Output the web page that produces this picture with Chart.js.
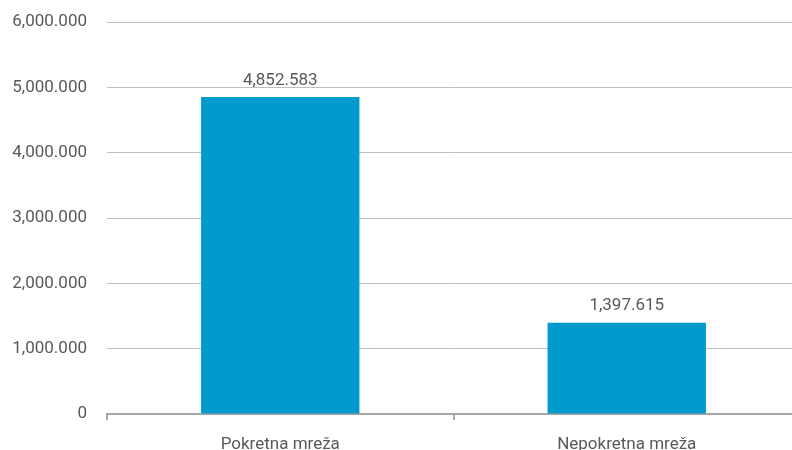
<!DOCTYPE html>
<html>
<head>
<meta charset="utf-8">
<script src="https://cdn.jsdelivr.net/npm/chart.js@4.4.1/dist/chart.umd.min.js"></script>
<style>
  html, body { margin: 0; padding: 0; overflow: hidden; background: #fff; }
  #wrap { width: 800px; height: 450px; }
</style>
</head>
<body>
<div id="wrap"><canvas id="networkChart"></canvas></div>
<script>
const categories = ["Pokretna mreža", "Nepokretna mreža"];
const values = [4852.583, 1397.615];
const yTicks = [0, 1000, 2000, 3000, 4000, 5000, 6000];

const textColor = "#595959";
const fontFamily = "Roboto, 'Open Sans', sans-serif";

function formatValue(value) {
  if (value === 0) return "0";
  return value.toLocaleString("en-US", { minimumFractionDigits: 3, maximumFractionDigits: 3 });
}

const valueLabels = {
  id: "valueLabels",
  afterDatasetsDraw(chart) {
    const ctx = chart.ctx;
    const meta = chart.getDatasetMeta(0);
    ctx.save();
    ctx.fillStyle = textColor;
    ctx.font = `17px ${fontFamily}`;
    ctx.textAlign = "center";
    ctx.textBaseline = "bottom";
    meta.data.forEach((bar, i) => {
      ctx.fillText(formatValue(values[i]), bar.x, bar.y - 8);
    });
    ctx.restore();
  }
};

new Chart(document.getElementById("networkChart"), {
  type: "bar",
  data: {
    labels: categories,
    datasets: [
      {
        data: values,
        backgroundColor: "#009ACD",
        categoryPercentage: 0.457,
        barPercentage: 1
      }
    ]
  },
  options: {
    responsive: true,
    maintainAspectRatio: false,
    animation: false,
    layout: { padding: { top: 22, left: 0, right: 0, bottom: 0 } },
    plugins: { legend: { display: false }, tooltip: { enabled: false } },
    scales: {
      x: {
        offset: true,
        grid: { offset: true, drawOnChartArea: false, drawTicks: true, tickLength: 6, color: "#a6a6a6", lineWidth: 2 },
        border: { color: "#a6a6a6", width: 2 },
        ticks: { color: textColor, font: { family: fontFamily, size: 17 }, padding: 15 },
        afterFit(scale) { scale.height = 36; }
      },
      y: {
        min: 0,
        max: 6000,
        afterBuildTicks(scale) { scale.ticks = yTicks.map((v) => ({ value: v })); },
        grid: { drawTicks: false, color: "#bfbfbf", lineWidth: 1 },
        border: { display: false },
        ticks: { color: textColor, font: { family: fontFamily, size: 17 }, padding: 20, callback: (v) => formatValue(v) },
        afterFit(scale) {
          scale.width = 107;
          scale.paddingTop = 0;
          scale.paddingBottom = 0;
        }
      }
    }
  },
  plugins: [valueLabels]
});
</script>
</body>
</html>
